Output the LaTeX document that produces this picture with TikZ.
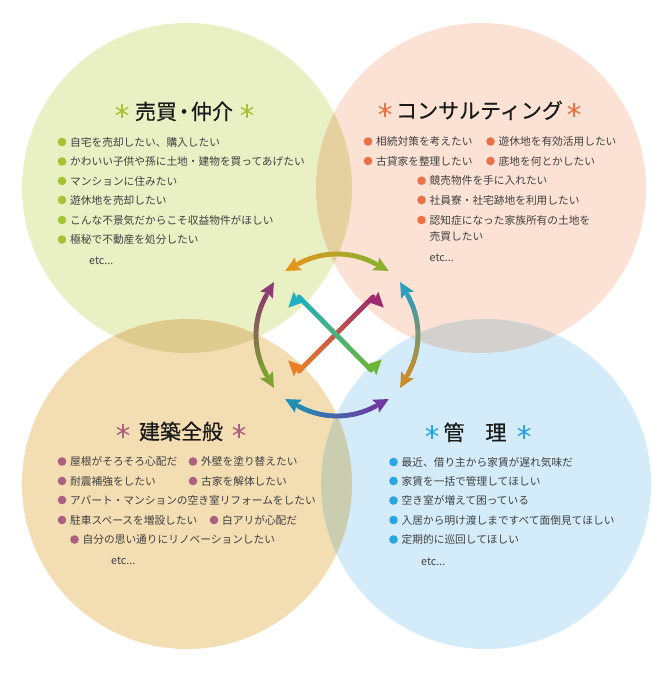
\documentclass[tikz,border=0pt]{standalone}
\usepackage{fontspec}
\newfontfamily\jp{Noto Sans CJK JP}
\newfontfamily\jpt{Noto Sans CJK JP}[FakeBold=0.5]
\usetikzlibrary{calc}
\definecolor{tlfill}{HTML}{E9F0C4}
\definecolor{trfill}{HTML}{FCE2D4}
\definecolor{blfill}{HTML}{F3DDB3}
\definecolor{brfill}{HTML}{D4ECF9}
\definecolor{ovTLTR}{HTML}{E5D0A0}
\definecolor{ovTLBL}{HTML}{DDCC8E}
\definecolor{ovTRBR}{HTML}{D2D1CE}
\definecolor{ovBLBR}{HTML}{CACDAF}
\definecolor{tlc}{HTML}{A5C335}
\definecolor{trc}{HTML}{EB7246}
\definecolor{blc}{HTML}{AA617F}
\definecolor{brc}{HTML}{2AA4E2}
\definecolor{bodyc}{HTML}{404040}
\definecolor{titlec}{HTML}{1A1A1A}
\definecolor{aOrg}{HTML}{E2961C}
\definecolor{aYgr}{HTML}{8DB12E}
\definecolor{aMar}{HTML}{8B3A72}
\definecolor{aGrn}{HTML}{7DA22F}
\definecolor{aTea}{HTML}{2A9EBE}
\definecolor{aGld}{HTML}{C98E2A}
\definecolor{aTeb}{HTML}{1F8FB3}
\definecolor{aPur}{HTML}{6D3BA2}
\definecolor{dTea}{HTML}{1FB0C2}
\definecolor{dGrn}{HTML}{6CB43A}
\definecolor{dMag}{HTML}{9C2A6E}
\definecolor{dOrg}{HTML}{EA8026}
\tikzset{
  body/.style={font=\jp\fontsize{10.7}{12}\selectfont, text=bodyc, anchor=west, inner sep=0pt, text height=8.5pt, text depth=0pt},
  ttl/.style={font=\jpt\fontsize{21}{24}\selectfont, text=titlec, anchor=center, inner sep=0pt, text height=16.8pt, text depth=0pt},
}
% bullet item
\newcommand{\bul}[5]{%
  \fill[#4] (#2,#3) circle (4.3);
  \node[body] (#1) at (#2+8,#3) {#5};}
% asterisk
\newcommand{\jast}[3]{%
  \draw[#3, line width=1.4pt] (#1,#2) ++(90:7) -- ++(270:14);
  \draw[#3, line width=1.4pt] (#1,#2) ++(30:7) -- ++(210:14);
  \draw[#3, line width=1.4pt] (#1,#2) ++(150:7) -- ++(330:14);}
% arrow head: base coordinate name, direction, colour
\newcommand{\headtri}[3]{%
  \fill[#3] ($(#1)+(#2:15)$) -- ($(#1)+(#2+90:7.3)$) -- ($(#1)+(#2:2.4)$) -- ($(#1)+(#2-90:7.3)$) -- cycle;}
% gradient double arc around (ctr)
\newcommand{\garc}[4]{%
  \pgfmathsetmacro\gsg{sign(#2-#1)}
  \pgfmathsetmacro\gaS{#1+\gsg*9.5}
  \pgfmathsetmacro\gaE{#2-\gsg*9.5}
  \foreach \k in {0,...,23}{
    \pgfmathsetmacro\gaA{\gaS+(\gaE-\gaS)*\k/24}
    \pgfmathsetmacro\gaB{\gaS+(\gaE-\gaS)*(\k+1)/24}
    \pgfmathtruncatemacro\gpc{100*(\k+0.5)/24}
    \draw[line width=4.8pt, line cap=round, color=#4!\gpc!#3] ($(ctr)+(\gaA:81)$) -- ($(ctr)+(\gaB:81)$);
  }
  \coordinate (hbA) at ($(ctr)+(\gaS:81)$);
  \coordinate (hbB) at ($(ctr)+(\gaE:81)$);
  \pgfmathsetmacro\gdA{\gaS-\gsg*90}
  \pgfmathsetmacro\gdB{\gaE+\gsg*90}
  \headtri{hbA}{\gdA}{#3}
  \headtri{hbB}{\gdB}{#4}}
% gradient double straight arrow between two named coordinates
\newcommand{\gline}[4]{%
  \pgfmathanglebetweenpoints{\pgfpointanchor{#1}{center}}{\pgfpointanchor{#2}{center}}
  \let\gang\pgfmathresult
  \pgfmathsetmacro\gangb{\gang+180}
  \coordinate (gA2) at ($(#1)!14pt!(#2)$);
  \coordinate (gB2) at ($(#2)!14pt!(#1)$);
  \foreach \k in {0,...,23}{
    \pgfmathsetmacro\gpa{\k/24}
    \pgfmathsetmacro\gpb{(\k+1)/24}
    \pgfmathtruncatemacro\gpc{100*(\k+0.5)/24}
    \draw[line width=4.8pt, line cap=round, color=#4!\gpc!#3] ($(gA2)!\gpa!(gB2)$) -- ($(gA2)!\gpb!(gB2)$);
  }
  \headtri{gA2}{\gangb}{#3}
  \headtri{gB2}{\gang}{#4}}
\begin{document}
\begin{tikzpicture}[x=1pt,y=-1pt]
\useasboundingbox (0,0) rectangle (670,674);
\fill[white] (0,0) rectangle (670,674);
% circles
\fill[tlfill] (187,188) circle (165);
\fill[trfill] (481,188) circle (165);
\fill[blfill] (187,484) circle (165);
\fill[brfill] (486,484) circle (165);
\begin{scope}
  \clip (187,188) circle (165);
  \fill[ovTLTR] (481,188) circle (165);
  \fill[ovTLBL] (187,484) circle (165);
\end{scope}
\begin{scope}
  \clip (486,484) circle (165);
  \fill[ovTRBR] (481,188) circle (165);
  \fill[ovBLBR] (187,484) circle (165);
\end{scope}
% arrows
\coordinate (ctr) at (337,335);
\garc{-128}{-52}{aOrg}{aYgr}
\garc{-141}{-219}{aMar}{aGrn}
\garc{-39}{39}{aTea}{aGld}
\garc{128}{52}{aTeb}{aPur}
\coordinate (d2a) at (383,287);
\coordinate (d2b) at (289,381);
\coordinate (d1a) at (289,287);
\coordinate (d1b) at (381,380);
\gline{d2a}{d2b}{dMag}{dOrg}
\gline{d1a}{d1b}{dTea}{dGrn}
% ---- top left: sales
\jast{122}{111}{tlc}
\node[ttl] (tlT) at (184,111) {売買\kern-3.5pt・\kern-3.5pt仲介};
\jast{247}{111}{tlc}
\bul{tl1}{62}{142}{tlc}{自宅を売却したい、購入したい}
\bul{tl2}{62}{161.5}{tlc}{かわいい子供や孫に土地・建物を買ってあげたい}
\bul{tl3}{62}{181}{tlc}{マンションに住みたい}
\bul{tl4}{62}{200}{tlc}{遊休地を売却したい}
\bul{tl5}{62}{220}{tlc}{こんな不景気だからこそ収益物件がほしい}
\bul{tl6}{62}{239.5}{tlc}{極秘で不動産を処分したい}
\node[body] (tlE) at (89,260) {etc...};
% ---- top right: consulting
\jast{385}{110}{trc}
\node[ttl] (trT) at (479.5,110) {コンサルティング};
\jast{574}{110}{trc}
\bul{tr1}{368}{141.5}{trc}{相続対策を考えたい}
\bul{tr2}{490.5}{141.5}{trc}{遊休地を有効活用したい}
\bul{tr3}{368}{161}{trc}{古貸家を整理したい}
\bul{tr4}{490.5}{161}{trc}{底地を何とかしたい}
\bul{tr5}{421.5}{180.7}{trc}{競売物件を手に入れたい}
\bul{tr6}{421.5}{200}{trc}{社員寮・社宅跡地を利用したい}
\bul{tr7}{421.5}{220}{trc}{認知症になった家族所有の土地を}
\node[body] (tr7b) at (429.5,236.5) {売買したい};
\node[body] (trE) at (429.5,257) {etc...};
% ---- bottom left: construction
\jast{123}{431}{blc}
\node[ttl] (blT) at (181,431) {建築全般};
\jast{239}{431}{blc}
\bul{bl1}{62}{461.5}{blc}{屋根がそろそろ心配だ}
\bul{bl2}{193}{461.5}{blc}{外壁を塗り替えたい}
\bul{bl3}{62}{481}{blc}{耐震補強をしたい}
\bul{bl4}{193}{481}{blc}{古家を解体したい}
\bul{bl5}{62}{500}{blc}{アパート・マンションの空き室リフォームをしたい}
\bul{bl6}{62}{520}{blc}{駐車スペースを増設したい}
\bul{bl7}{214}{520}{blc}{白アリが心配だ}
\bul{bl8}{74.5}{539.5}{blc}{自分の思い通りにリノベーションしたい}
\node[body] (blE) at (111,560) {etc...};
% ---- bottom right: management
\jast{432}{432}{brc}
\node[ttl] (brT) at (475,432) {管　理};
\jast{524}{432}{brc}
\bul{br1}{393.5}{462}{brc}{最近、借り主から家賃が遅れ気味だ}
\bul{br2}{393.5}{481}{brc}{家賃を一括で管理してほしい}
\bul{br3}{393.5}{500.5}{brc}{空き室が増えて困っている}
\bul{br4}{393.5}{520}{brc}{入居から明け渡しまですべて面倒見てほしい}
\bul{br5}{393.5}{539.5}{brc}{定期的に巡回してほしい}
\node[body] (brE) at (421,561) {etc...};
\end{tikzpicture}
\end{document}
